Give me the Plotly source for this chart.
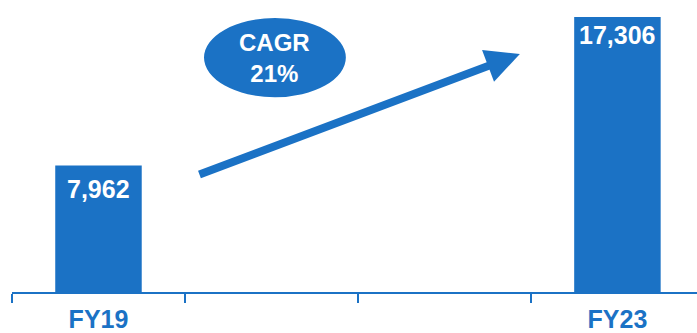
import plotly.graph_objects as go

categories = ["FY19", " ", "  ", "FY23"]
values = [7962, None, None, 17306]
cagr_text = "CAGR<br>21%"

BLUE = "#1b72c5"
FONT = "Liberation Sans, Arial, sans-serif"

fig = go.Figure()
fig.add_trace(go.Bar(
    x=categories, y=values, width=0.5,
    marker=dict(color=BLUE, line=dict(width=0)),
    hoverinfo="skip",
))

label_shifts = [-8, None, None, -2]
for c, v, s in zip(categories, values, label_shifts):
    if v is None:
        continue
    fig.add_annotation(
        x=c, y=v, xref="x", yref="y", text=f"<b>{v:,}</b>",
        showarrow=False, yanchor="top", yshift=s,
        font=dict(family=FONT, size=25, color="white"),
    )

# CAGR ellipse
fig.add_shape(type="circle", xref="x", yref="y",
              x0=0.61, x1=1.43, y0=12260, y1=17240,
              fillcolor=BLUE, line=dict(width=0), layer="above")
fig.add_annotation(x=1.02, y=14750, xref="x", yref="y", text=f"<b>{cagr_text}</b>",
                   showarrow=False, font=dict(family=FONT, size=24, color="white"))

# growth arrow
fig.add_annotation(x=2.436, y=14980, xref="x", yref="y",
                   ax=0.575, ay=7360, axref="x", ayref="y",
                   text="", showarrow=True, arrowhead=2, arrowsize=0.85,
                   arrowwidth=8, arrowcolor=BLUE)

fig.update_layout(
    width=697, height=333,
    margin=dict(l=12, r=0, t=0, b=41),
    paper_bgcolor="white", plot_bgcolor="white",
    showlegend=False, bargap=0.5,
    xaxis=dict(
        type="category", categoryorder="array", categoryarray=categories,
        range=[-0.5, 3.46], showline=True, linecolor=BLUE, linewidth=2,
        ticks="outside", tickson="boundaries", ticklen=9, tickwidth=2, tickcolor=BLUE,
        showgrid=False, zeroline=False, ticklabelstandoff=4,
        tickfont=dict(family=FONT, size=25, color=BLUE),
    ),
    yaxis=dict(range=[0, 18376], visible=False, showgrid=False, zeroline=False),
)
fig.update_xaxes(ticktext=[f"<b>{c}</b>" for c in categories], tickvals=categories)

fig.write_html("out.html")
